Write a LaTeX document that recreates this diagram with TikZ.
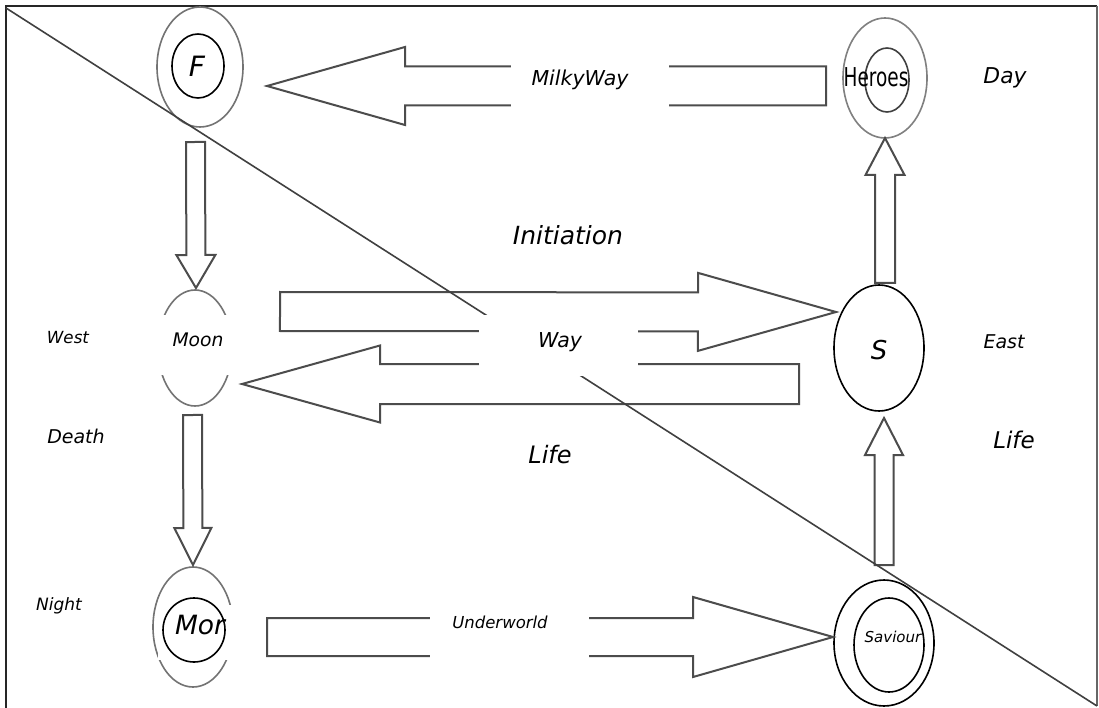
\documentclass[tikz,border=0pt]{standalone}
\usepackage{fontspec}
\setmainfont{DejaVu Sans}
\usetikzlibrary{shapes.geometric,calc}
\newcommand{\setfs}[1]{\fontsize{#1}{#1}\selectfont}
% #1 name prefix, #2 tail, #3 tip, #4 body half width, #5 head half width, #6 head length
\newcommand{\blockarrow}[6]{%
  \coordinate (#1hb) at ($(#3)!#6!(#2)$);
  \draw[blockarr] ($(#2)!#4!90:(#3)$) -- ($(#1hb)!#4!90:(#3)$) -- ($(#1hb)!#5!90:(#3)$) -- (#3)
     -- ($(#1hb)!#5!-90:(#3)$) -- ($(#1hb)!#4!-90:(#3)$) -- ($(#2)!#4!-90:(#3)$) -- cycle;}
\begin{document}
\begin{tikzpicture}[x=1pt,y=-1pt,
  blockarr/.style={draw=black!70,line width=2pt,fill=white,line join=miter},
  outerov/.style={ellipse,draw=black!55,line width=1.6pt,inner sep=0pt,fill=white},
  innerov/.style={ellipse,draw=black,line width=1.6pt,inner sep=0pt},
  cover/.style={fill=white,draw=none,inner sep=0pt},
  lbl/.style={inner sep=0pt,font=\itshape}]
\useasboundingbox (0,0) rectangle (1099,708);
\fill[white] (0,0) rectangle (1099,708);

% frame
\coordinate (frTL) at (6,6);
\coordinate (frTR) at (1097,6);
\coordinate (frBL) at (6,708);
\coordinate (frBR) at (1097,706);
\draw[black!85,line width=2.2pt] (frBL) -- (frTL) -- (frTR);
\draw[black!60,line width=1.2pt] (frTR) -- (frBR);

% outer ovals
\node[outerov,minimum width=86pt,minimum height=120pt] (Fo) at (200,67) {};
\node[outerov,draw=black!50,minimum width=84pt,minimum height=120pt] (Ho) at (885,78) {};
\node[outerov,minimum width=74pt,minimum height=116pt] (Mo) at (195,348) {};
\node[outerov,minimum width=80pt,minimum height=120pt] (Ro) at (193,627) {};
\node[ellipse,draw=black,line width=1.6pt,inner sep=0pt,minimum width=90pt,minimum height=126pt] (S) at (879,348) {};
\node[innerov,minimum width=100pt,minimum height=126pt] (Vo) at (884,643) {};

% covers hiding the sides of Moon and Mor ovals
\node[cover,minimum width=90pt,minimum height=60pt] (moonbox) at (195,345) {};
\node[cover,minimum width=76pt,minimum height=55pt] (morbox) at (196,632.5) {};

% inner ovals
\node[innerov,minimum width=52pt,minimum height=64pt] (Fi) at (198,66) {};
\node[innerov,draw=black!75,minimum width=44pt,minimum height=64pt] (Hi) at (887,80) {};
\node[innerov,minimum width=62pt,minimum height=64pt] (Ri) at (194,630) {};
\node[innerov,minimum width=70pt,minimum height=94pt] (Vi) at (889,645) {};

% arrow ends
\coordinate (mwT) at (826,86);   \coordinate (mwP) at (267,86);
\coordinate (fmT) at (195.5,142); \coordinate (fmP) at (196,288);
\coordinate (inT) at (280,311.5); \coordinate (inP) at (836,312);
\coordinate (lfT) at (799,384);  \coordinate (lfP) at (242,384);
\coordinate (mmT) at (192.5,415); \coordinate (mmP) at (193,565);
\coordinate (uwT) at (267,637);  \coordinate (uwP) at (833,637);
\coordinate (vsT) at (884,565);  \coordinate (vsP) at (884,418);
\coordinate (shT) at (885,283);  \coordinate (shP) at (885,138);

\blockarrow{mw}{mwT}{mwP}{19.5pt}{39pt}{138pt}
\blockarrow{fm}{fmT}{fmP}{9.5pt}{19.5pt}{33pt}
\blockarrow{in}{inT}{inP}{19.5pt}{39pt}{138pt}
\blockarrow{lf}{lfT}{lfP}{20pt}{38.5pt}{138pt}
\blockarrow{mm}{mmT}{mmP}{9.5pt}{18.5pt}{37pt}
\blockarrow{uw}{uwT}{uwP}{19pt}{40pt}{140pt}
\blockarrow{vs}{vsT}{vsP}{9.5pt}{19pt}{37pt}
\blockarrow{sh}{shT}{shP}{10pt}{19.5pt}{37pt}

% diagonal
\coordinate (dgA) at (6,8);
\coordinate (dgB) at (1097,706);
\draw[black!75,line width=1.6pt] (dgA) -- (dgB);

% label covers
\node[cover,minimum width=158pt,minimum height=56pt] (mwbox) at (590,86) {};
\node[cover,minimum width=159pt,minimum height=61pt] (waybox) at (558.5,345.5) {};
\node[cover,minimum width=159pt,minimum height=52pt] (uwbox) at (509.5,637) {};

% texts
\node[lbl,font={\itshape\setfs{28}}] (Ft) at (197,66) {F};
\node[inner sep=0pt,font={\setfs{26}}] (Ht) at (876,77) {\scalebox{0.71}[1]{Heroes}};
\node[lbl,font={\itshape\setfs{18.7}}] (moont) at (198,340) {Moon};
\node[lbl,font={\itshape\setfs{26}}] (St) at (879,350) {S};
\node[lbl,font={\itshape\setfs{26.5}}] (Rt) at (200,625) {Mor};
\node[lbl,font={\itshape\setfs{15}}] (Vt) at (893,637) {Saviour};

\node[lbl,font={\itshape\setfs{20.5}}] (mwt) at (580,80) {MilkyWay};
\node[lbl,font={\itshape\setfs{25}}] (init) at (568,235) {Initiation};
\node[lbl,font={\itshape\setfs{20.5}}] (way) at (560,342) {Way};
\node[lbl,font={\itshape\setfs{24}}] (life1) at (550,455) {Life};
\node[lbl,font={\itshape\setfs{16.5}}] (uwt) at (500,622) {Underworld};

\node[lbl,font={\itshape\setfs{21.8}}] (day) at (1005,78) {Day};
\node[lbl,font={\itshape\setfs{19}}] (east) at (1004,342) {East};
\node[lbl,font={\itshape\setfs{23}}] (life2) at (1014,440) {Life};
\node[lbl,font={\itshape\setfs{16.7}}] (west) at (68,338) {West};
\node[lbl,font={\itshape\setfs{19}}] (death) at (76,436) {Death};
\node[lbl,font={\itshape\setfs{17}}] (night) at (59,606) {Night};
\end{tikzpicture}
\end{document}
